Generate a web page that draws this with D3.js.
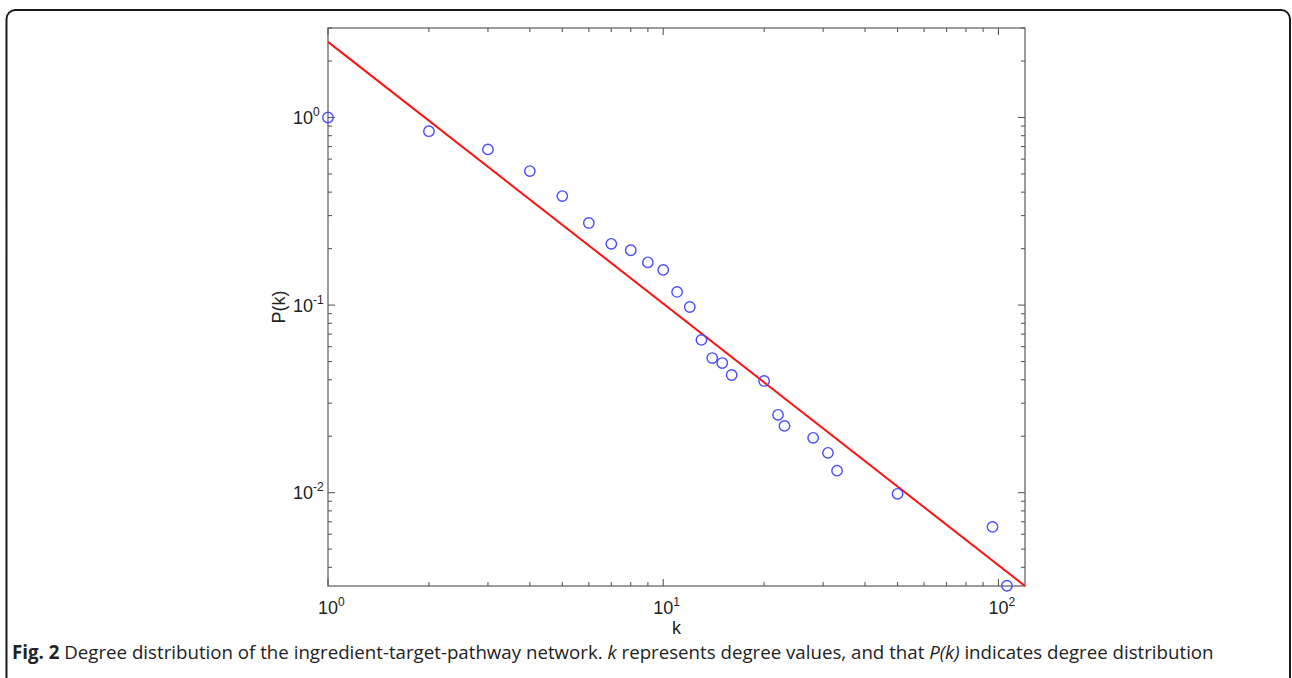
<!DOCTYPE html>
<html>
<head>
<meta charset="utf-8">
<script src="https://cdn.jsdelivr.net/npm/d3@7"></script>
<style>
  html, body { margin: 0; padding: 0; background: #fff; }
  svg { display: block; }
</style>
</head>
<body>
<svg id="fig" width="1292" height="678"></svg>
<script>
// Degree k of each node class and its cumulative probability P(k)
const degree = [1, 2, 3, 4, 5, 6, 7, 8, 9, 10, 11, 12, 13, 14, 15, 16, 20, 22, 23, 28, 31, 33, 50, 96, 106];
const prob = [1.0, 0.845, 0.676, 0.518, 0.381, 0.274, 0.212, 0.196, 0.169, 0.154,
              0.1175, 0.0977, 0.0652, 0.0522, 0.0491, 0.0424, 0.0394, 0.026, 0.0227,
              0.0196, 0.0163, 0.0131, 0.00986, 0.00657, 0.00319];

// Power-law fit drawn across the full k range
const fitK = [1, 120];
const fitP = [2.53, 0.00318];

// Axis extents and decade ticks
const xDomain = [1, 120];
const yDomain = [0.00318, 3];
const xTicks = [1, 10, 100];
const yTicks = [0.01, 0.1, 1];

const captionBold = "Fig. 2";
const captionText = " Degree distribution of the ingredient-target-pathway network. ";
const captionK = "k";
const captionMid = " represents degree values, and that ";
const captionPk = "P(k)";
const captionEnd = " indicates degree distribution";

const svg = d3.select("#fig");

// Rounded figure frame
svg.append("rect")
  .attr("x", 6.5).attr("y", 10).attr("width", 1283.5).attr("height", 680)
  .attr("rx", 9).attr("ry", 9)
  .attr("fill", "none").attr("stroke", "#1a1a1a").attr("stroke-width", 2);

const plot = { left: 328, right: 1025, top: 28, bottom: 586 };

const x = d3.scaleLog().domain(xDomain).range([plot.left, plot.right]);
const y = d3.scaleLog().domain(yDomain).range([plot.bottom, plot.top]);

const axisColor = "#5a5a5a";
const g = svg.append("g");

// Minor / major ticks for a log axis within a domain
function logTicks(domain) {
  const out = [];
  const lo = Math.floor(Math.log10(domain[0])), hi = Math.ceil(Math.log10(domain[1]));
  for (let e = lo; e <= hi; e++) {
    for (let m = 1; m <= 9; m++) {
      const v = m * Math.pow(10, e);
      if (v >= domain[0] * 0.9999 && v <= domain[1] * 1.0001) out.push({ v, major: m === 1 });
    }
  }
  return out;
}

// Box
g.append("rect")
  .attr("x", plot.left).attr("y", plot.top)
  .attr("width", plot.right - plot.left).attr("height", plot.bottom - plot.top)
  .attr("fill", "none").attr("stroke", axisColor).attr("stroke-width", 1.2);

// x ticks (bottom and top, pointing inward)
logTicks(xDomain).forEach(t => {
  const px = x(t.v), len = t.major ? 7 : 4;
  g.append("line").attr("x1", px).attr("x2", px)
    .attr("y1", plot.bottom).attr("y2", plot.bottom - len)
    .attr("stroke", axisColor).attr("stroke-width", 1.1);
  g.append("line").attr("x1", px).attr("x2", px)
    .attr("y1", plot.top).attr("y2", plot.top + len)
    .attr("stroke", axisColor).attr("stroke-width", 1.1);
});
// y ticks (left and right, pointing inward)
logTicks(yDomain).forEach(t => {
  const py = y(t.v), len = t.major ? 7 : 4;
  g.append("line").attr("y1", py).attr("y2", py)
    .attr("x1", plot.left).attr("x2", plot.left + len)
    .attr("stroke", axisColor).attr("stroke-width", 1.1);
  g.append("line").attr("y1", py).attr("y2", py)
    .attr("x1", plot.right).attr("x2", plot.right - len)
    .attr("stroke", axisColor).attr("stroke-width", 1.1);
});

const tickFont = "Liberation Sans, Arial, sans-serif";
const mantissaWidth = 20; // width of "10" at 18px

function powerLabel(sel, v) {
  const e = Math.round(Math.log10(v));
  sel.append("tspan").text("10");
  sel.append("tspan").attr("dy", -8).attr("font-size", 12).text(String(e));
}

// x tick labels: "10" centred on the tick, exponent trailing
xTicks.forEach(v => {
  const t = g.append("text")
    .attr("x", x(v) - mantissaWidth / 2).attr("y", 614)
    .attr("font-family", tickFont).attr("font-size", 18).attr("fill", "#222");
  powerLabel(t, v);
});
// y tick labels: "10" right-aligned just left of the axis
yTicks.forEach(v => {
  const t = g.append("text")
    .attr("x", 313 - mantissaWidth).attr("y", y(v) + 6.5)
    .attr("font-family", tickFont).attr("font-size", 18).attr("fill", "#222");
  powerLabel(t, v);
});

// Axis titles
g.append("text")
  .attr("x", (plot.left + plot.right) / 2).attr("y", 634)
  .attr("text-anchor", "middle")
  .attr("font-family", tickFont).attr("font-size", 18).attr("fill", "#222")
  .text("k");
g.append("text")
  .attr("transform", `translate(285, ${(plot.top + plot.bottom) / 2}) rotate(-90)`)
  .attr("text-anchor", "middle")
  .attr("font-family", tickFont).attr("font-size", 18).attr("fill", "#222")
  .text("P(k)");

// Fitted power-law line
const line = d3.line().x(d => x(d[0])).y(d => y(d[1]));
g.append("path")
  .datum(fitK.map((k, i) => [k, fitP[i]]))
  .attr("d", line)
  .attr("fill", "none").attr("stroke", "#ff1010").attr("stroke-width", 2);

// Observed degree distribution
g.selectAll("circle.pt")
  .data(degree.map((k, i) => [k, prob[i]]))
  .join("circle")
  .attr("class", "pt")
  .attr("cx", d => x(d[0])).attr("cy", d => y(d[1]))
  .attr("r", 5.2)
  .attr("fill", "none").attr("stroke", "#4a4aff").attr("stroke-width", 1.4);

// Caption
const cap = svg.append("text")
  .attr("x", 12).attr("y", 659)
  .attr("font-family", "Open Sans, Noto Sans, sans-serif")
  .attr("font-size", 18.7).attr("fill", "#222");
cap.append("tspan").attr("font-weight", "bold").text(captionBold);
cap.append("tspan").text(captionText);
cap.append("tspan").attr("font-style", "italic").text(captionK);
cap.append("tspan").text(captionMid);
cap.append("tspan").attr("font-style", "italic").text(captionPk);
cap.append("tspan").text(captionEnd);
</script>
</body>
</html>
